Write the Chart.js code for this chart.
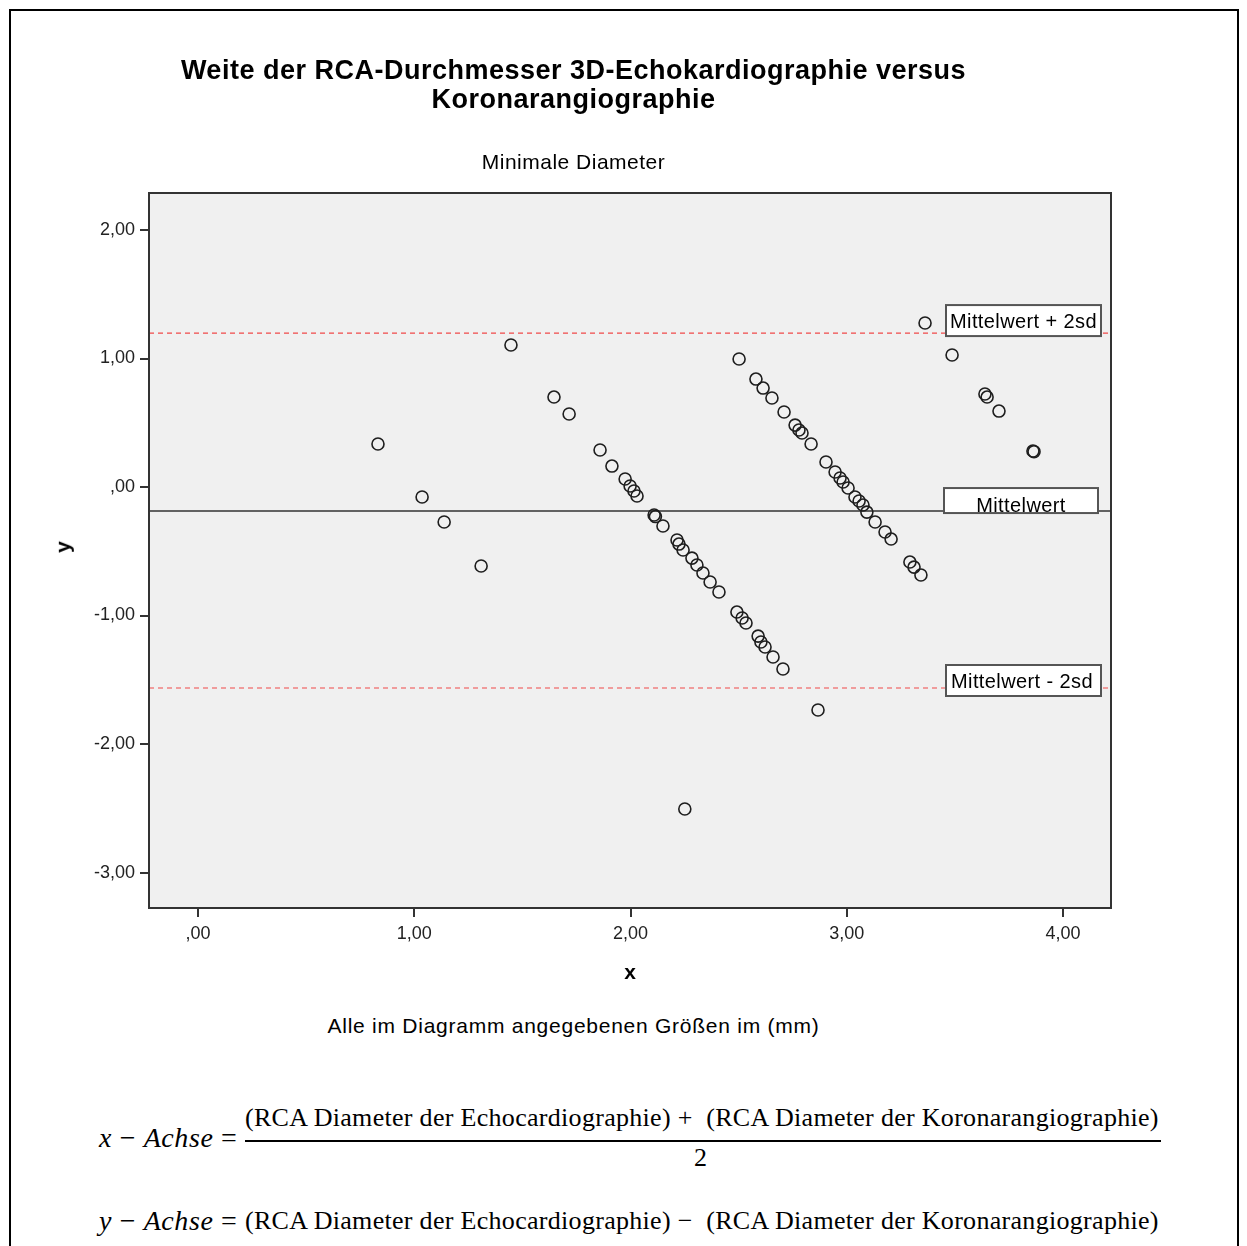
<!DOCTYPE html>
<html lang="de">
<head>
<meta charset="utf-8">
<title>Weite der RCA-Durchmesser</title>
<script src="https://cdn.jsdelivr.net/npm/chart.js@4.4.1/dist/chart.umd.min.js"></script>
<style>
  html, body { margin: 0; padding: 0; background: #fff; }
  body { width: 1247px; height: 1246px; position: relative; overflow: hidden; font-family: "Liberation Sans", Arial, sans-serif; }
  #frame { position: absolute; left: 9px; top: 9px; width: 1226px; height: 1300px; border: 2px solid #000; }
  #chartBox { position: absolute; left: 0; top: 0; width: 1247px; height: 1000px; }
  .txt { position: absolute; white-space: nowrap; color: #000; }
  #title { left: 0; width: 1147px; top: 56px; text-align: center; font-weight: bold; font-size: 27px; line-height: 29px; letter-spacing: 0.5px; }
  #subtitle { left: 0; width: 1147px; top: 150px; text-align: center; font-size: 21px; letter-spacing: 0.5px; }
  #xTitle { left: 620px; top: 960px; font-weight: bold; font-size: 21px; width: 20px; text-align: center; }
  #yTitle { left: 57px; top: 535px; font-weight: bold; font-size: 21px; transform: rotate(-90deg); }
  #note { left: 0; width: 1147px; top: 1014px; text-align: center; font-size: 21px; letter-spacing: 0.75px; }
  .math { font-family: "Liberation Serif", "DejaVu Serif", serif; font-size: 26px; letter-spacing: 0.3px; }
  .math i { font-style: italic; }
  .lhs { font-size: 28px; letter-spacing: 0.6px; }
  #fx { left: 99px; top: 1122px; }
  #num { left: 245px; top: 1103px; }
  #bar { position: absolute; left: 245px; top: 1140px; width: 916px; height: 2px; background: #000; }
  #den { left: 694px; top: 1143px; }
  #fyl { left: 99px; top: 1205px; }
  #fyr { left: 245px; top: 1206px; }
</style>
</head>
<body>
<div id="frame"></div>
<div id="chartBox"><canvas id="baChart"></canvas></div>

<div class="txt" id="title">Weite der RCA-Durchmesser 3D-Echokardiographie versus<br>Koronarangiographie</div>
<div class="txt" id="subtitle">Minimale Diameter</div>
<div class="txt" id="xTitle">x</div>
<div class="txt" id="yTitle">y</div>
<div class="txt" id="note">Alle im Diagramm angegebenen Größen im (mm)</div>

<div class="txt math lhs" id="fx"><i>x</i> − <i>Achse</i> =</div>
<div class="txt math" id="num">(RCA Diameter der Echocardiographie) +&nbsp; (RCA Diameter der Koronarangiographie)</div>
<div id="bar"></div>
<div class="txt math" id="den">2</div>
<div class="txt math lhs" id="fyl"><i>y</i> − <i>Achse</i> =</div>
<div class="txt math" id="fyr">(RCA Diameter der Echocardiographie) −&nbsp; (RCA Diameter der Koronarangiographie)</div>

<script>
// Mittelwert der beiden Methoden (x) und Differenz (y)
const meanValues = [
  0.832, 1.036, 1.138, 1.309, 1.447, 1.646, 1.716, 1.859, 1.914, 1.975,
  1.998, 2.016, 2.030, 2.109, 2.115, 2.150, 2.215, 2.224, 2.243, 2.284,
  2.307, 2.335, 2.368, 2.409, 2.492, 2.516, 2.534, 2.590, 2.603, 2.622,
  2.659, 2.705, 2.867, 2.251, 2.502, 2.580, 2.613, 2.654, 2.710, 2.761,
  2.779, 2.793, 2.835, 2.904, 2.946, 2.969, 2.983, 3.006, 3.038, 3.057,
  3.075, 3.093, 3.131, 3.177, 3.205, 3.292, 3.311, 3.343, 3.362, 3.487,
  3.639, 3.649, 3.704, 3.861, 3.866
];
const diffValues = [
  0.335, -0.078, -0.272, -0.615, 1.105, 0.700, 0.568, 0.288, 0.163, 0.062,
  0.008, -0.031, -0.070, -0.218, -0.230, -0.303, -0.412, -0.444, -0.490, -0.553,
  -0.607, -0.669, -0.739, -0.817, -0.973, -1.019, -1.058, -1.160, -1.206, -1.245,
  -1.323, -1.416, -1.735, -2.506, 0.996, 0.840, 0.770, 0.693, 0.584, 0.482,
  0.444, 0.420, 0.335, 0.195, 0.117, 0.070, 0.039, -0.008, -0.078, -0.109,
  -0.140, -0.195, -0.272, -0.350, -0.405, -0.584, -0.623, -0.685, 1.276, 1.027,
  0.724, 0.700, 0.591, 0.280, 0.275
];

// Referenzlinien
const refNames = ["Mittelwert + 2sd", "Mittelwert", "Mittelwert - 2sd"];
const refValues = [1.198, -0.187, -1.564];

// Achsenbereich und Ticks
const xRange = [-0.227, 4.222];
const yRange = [-3.276, 2.288];
const xTickStep = 1;
const yTickStep = 1;

function formatDe(v) {
  if (Math.abs(v) < 1e-9) return ",00";
  return v.toFixed(2).replace(".", ",");
}

const points = meanValues.map((x, i) => ({ x: x, y: diffValues[i] }));

function refLine(value, idx) {
  const isMean = idx === 1;
  return {
    type: "line",
    label: refNames[idx],
    data: [{ x: xRange[0], y: value }, { x: xRange[1], y: value }],
    borderColor: isMean ? "#333333" : "#f04848",
    borderWidth: isMean ? 1.6 : 1.2,
    borderDash: isMean ? [] : [5, 4],
    pointRadius: 0,
    order: 2
  };
}

// Hintergrund, Rahmen und Beschriftung der Referenzlinien
const plotDecor = {
  id: "plotDecor",
  beforeDatasetsDraw(chart) {
    const a = chart.chartArea;
    const ctx = chart.ctx;
    ctx.save();
    ctx.fillStyle = "#f0f0f0";
    ctx.fillRect(a.left, a.top, a.right - a.left, a.bottom - a.top);
    ctx.restore();
  },
  afterDatasetsDraw(chart) {
    const a = chart.chartArea;
    const ctx = chart.ctx;
    const yScale = chart.scales.y;
    // Kästchen für die Referenzlinien
    const boxes = [
      { top: -28, bottom: 3, left: 946, right: 1101, align: "left", tx: 950, ty: -11 },
      { top: -23, bottom: 2, left: 944, right: 1098, align: "center", tx: 1021, ty: -5 },
      { top: -23, bottom: 8, left: 946, right: 1101, align: "left", tx: 951, ty: -6 }
    ];
    ctx.save();
    ctx.font = "20px 'Liberation Sans', Arial, sans-serif";
    ctx.letterSpacing = "0.4px";
    ctx.textBaseline = "middle";
    refValues.forEach((v, i) => {
      const py = yScale.getPixelForValue(v);
      const b = boxes[i];
      ctx.fillStyle = "#ffffff";
      ctx.fillRect(b.left, py + b.top, b.right - b.left, b.bottom - b.top);
      ctx.strokeStyle = "#555555";
      ctx.lineWidth = 2;
      ctx.strokeRect(b.left, py + b.top, b.right - b.left, b.bottom - b.top);
      ctx.fillStyle = "#000000";
      ctx.textAlign = b.align;
      ctx.fillText(refNames[i], b.tx, py + b.ty);
    });
    // Rahmen des Plotbereichs
    ctx.strokeStyle = "#333333";
    ctx.lineWidth = 2;
    ctx.strokeRect(a.left, a.top, a.right - a.left, a.bottom - a.top);
    ctx.restore();
  }
};

const ctx = document.getElementById("baChart").getContext("2d");
new Chart(ctx, {
  type: "scatter",
  data: {
    datasets: [
      {
        label: "Differenz",
        data: points,
        pointStyle: "circle",
        pointRadius: 6,
        pointHoverRadius: 6,
        borderColor: "#1e1e1e",
        backgroundColor: "rgba(0,0,0,0)",
        borderWidth: 1.6,
        order: 1
      },
      ...refValues.map(refLine)
    ]
  },
  options: {
    responsive: true,
    maintainAspectRatio: false,
    animation: false,
    layout: { padding: { left: 59, top: 193, right: 136, bottom: 52 } },
    plugins: {
      legend: { display: false },
      tooltip: { enabled: false },
      title: { display: false }
    },
    scales: {
      x: {
        type: "linear",
        min: xRange[0],
        max: xRange[1],
        afterFit: s => { s.height = 40; },
        border: { display: true, color: "#333333", width: 2 },
        grid: { display: true, drawOnChartArea: false, drawTicks: true, tickLength: 9, color: "#333333", lineWidth: 2 },
        ticks: {
          stepSize: xTickStep,
          includeBounds: false,
          padding: 6,
          color: "#222222",
          font: { family: "'Liberation Sans', Arial, sans-serif", size: 18 },
          callback: v => formatDe(v)
        }
      },
      y: {
        type: "linear",
        min: yRange[0],
        max: yRange[1],
        afterFit: s => { s.width = 90; },
        border: { display: true, color: "#333333", width: 2 },
        grid: { display: true, drawOnChartArea: false, drawTicks: true, tickLength: 9, color: "#333333", lineWidth: 2 },
        ticks: {
          stepSize: yTickStep,
          includeBounds: false,
          padding: 5,
          color: "#222222",
          font: { family: "'Liberation Sans', Arial, sans-serif", size: 18 },
          callback: v => formatDe(v)
        }
      }
    }
  },
  plugins: [plotDecor]
});
</script>
</body>
</html>
